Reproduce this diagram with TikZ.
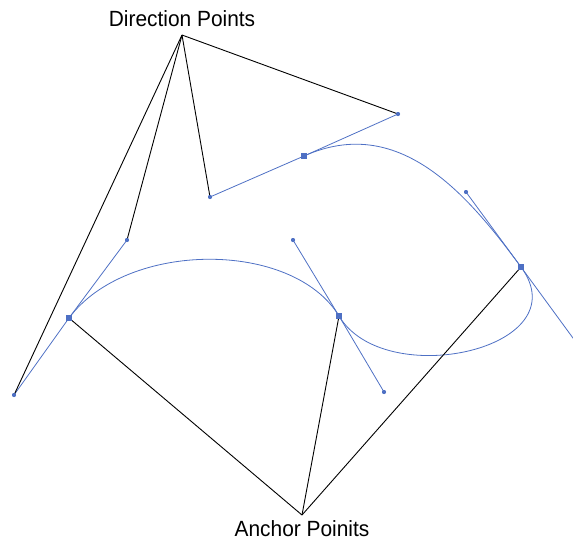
\documentclass[tikz,border=0pt]{standalone}
\usepackage{fontspec}
\setmainfont{Liberation Sans}[FakeStretch=0.95]
\usetikzlibrary{positioning}
\definecolor{pathblue}{RGB}{78,112,196}

\begin{document}
\begin{tikzpicture}[x=1pt, y=-1pt,
  anchorpt/.style={rectangle, fill=pathblue, inner sep=0pt, minimum size=5.5pt},
  dirpt/.style={circle, fill=pathblue, inner sep=0pt, minimum size=4pt},
  handle/.style={draw=pathblue, line width=0.8pt},
  callout/.style={draw=black, line width=0.9pt},
  calloutlabel/.style={font=\fontsize{22}{24}\selectfont, inner sep=0pt, anchor=base}]
  \useasboundingbox (0,0) rectangle (573,542);

  % labels
  \node[calloutlabel] (dirlabel) at (182,26) {Direction Points};
  \node[calloutlabel] (anclabel) at (302,536) {Anchor Poinits};
  \coordinate (dtip) at (182,35);
  \coordinate (atip) at (302,515);

  % anchor points
  \node[anchorpt] (a1) at (69,318) {};
  \node[anchorpt] (a2) at (339,316) {};
  \node[anchorpt] (a3) at (521,267) {};
  \node[anchorpt] (a4) at (304,156) {};

  % direction points
  \node[dirpt] (d1) at (14,395) {};
  \node[dirpt] (d2) at (127,240) {};
  \node[dirpt] (d3) at (293,240) {};
  \node[dirpt] (d4) at (384,392) {};
  \node[dirpt] (d5) at (466,192) {};
  \coordinate (d6) at (581,349);
  \node[dirpt] (d7) at (398,114) {};
  \node[dirpt] (d8) at (210,197) {};

  % the path and its handles
  \draw[handle] (a1.center) .. controls (d2.center) and (d3.center) .. (a2.center)
    .. controls (d4.center) and (d6) .. (a3.center)
    .. controls (d5.center) and (d7.center) .. (a4.center);
  \draw[handle] (d1.center) -- (a1.center) -- (d2.center);
  \draw[handle] (d3.center) -- (a2.center) -- (d4.center);
  \draw[handle] (d5.center) -- (a3.center) -- (d6);
  \draw[handle] (d8.center) -- (a4.center) -- (d7.center);

  % callout lines
  \foreach \p in {d1,d2,d8,d7}
    \draw[callout] (dtip) -- (\p.center);
  \foreach \p in {a1,a2,a3}
    \draw[callout] (atip) -- (\p.center);

  % points on top
  \foreach \p in {a1,a2,a3,a4}
    \node[anchorpt] at (\p) {};
  \foreach \p in {d1,d2,d3,d4,d5,d7,d8}
    \node[dirpt] at (\p) {};
\end{tikzpicture}
\end{document}
